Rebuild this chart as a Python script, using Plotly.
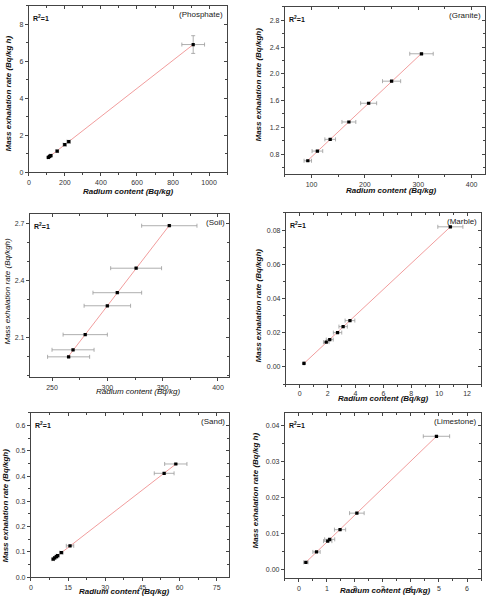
import numpy as np
import plotly.graph_objects as go

# ---------------- data ----------------
materials = ["Phosphate", "Granite", "Soil", "Marble", "Sand", "Limestone"]

phos_x = [108, 115, 122, 157, 199, 221, 912]
phos_y = [0.80, 0.85, 0.90, 1.14, 1.49, 1.65, 6.91]
phos_xerr = [5, 5, 6, 7, 9, 10, 63]
phos_yerr = [0.03, 0.03, 0.04, 0.05, 0.06, 0.07, 0.48]

granite_x = [93, 111, 135, 170, 207, 250, 306]
granite_y = [0.70, 0.845, 1.02, 1.28, 1.56, 1.89, 2.30]
granite_xerr = [7, 10, 10, 13, 15, 17, 22]
granite_yerr = [0.01, 0.01, 0.01, 0.01, 0.01, 0.01, 0.01]

soil_x = [265, 269, 280, 300, 309, 326, 356]
soil_y = [1.997, 2.034, 2.114, 2.266, 2.335, 2.464, 2.688]
soil_xerr = [19, 19, 20, 21, 22, 23, 25]
soil_yerr = [0.003, 0.003, 0.003, 0.003, 0.003, 0.003, 0.003]

marble_x = [0.3, 1.9, 2.15, 2.71, 3.11, 3.6, 10.8]
marble_y = [0.0021, 0.0145, 0.016, 0.0201, 0.0236, 0.0271, 0.0819]
marble_xerr = [0.05, 0.2, 0.25, 0.3, 0.3, 0.35, 0.9]
marble_yerr = [0.0002, 0.0002, 0.0002, 0.0002, 0.0002, 0.0002, 0.0002]

sand_x = [9.0, 9.6, 10.3, 10.8, 12.3, 15.8, 53.8, 58.5]
sand_y = [0.071, 0.076, 0.081, 0.085, 0.097, 0.124, 0.411, 0.448]
sand_xerr = [0.5, 0.5, 0.6, 0.6, 0.7, 1.5, 4.0, 4.5]
sand_yerr = [0.002, 0.002, 0.002, 0.002, 0.002, 0.002, 0.002, 0.002]

lime_x = [0.25, 0.63, 1.03, 1.1, 1.47, 2.07, 4.91]
lime_y = [0.0019, 0.0048, 0.0078, 0.0083, 0.011, 0.0156, 0.037]
lime_xerr = [0.08, 0.13, 0.15, 0.18, 0.2, 0.26, 0.47]
lime_yerr = [0.0001, 0.0001, 0.0001, 0.0001, 0.0001, 0.0001, 0.0001]

x_title = "Radium content (Bq/kg)"
y_titles = ["Mass exhalation rate (Bq/kg h)", "Mass exhalation rate (Bq/kgh)",
            "Mass exhalation rate (Bq/kgh)", "Mass exhalation rate (Bq/kgh)",
            "Mass exhalation rate (Bq/kgh)", "Mass exhalation rate (Bq/kg h)"]

series = [
    (phos_x, phos_y, phos_xerr, phos_yerr),
    (granite_x, granite_y, granite_xerr, granite_yerr),
    (soil_x, soil_y, soil_xerr, soil_yerr),
    (marble_x, marble_y, marble_xerr, marble_yerr),
    (sand_x, sand_y, sand_xerr, sand_yerr),
    (lime_x, lime_y, lime_xerr, lime_yerr),
]

# ---------------- layout geometry (pixels) ----------------
W, H = 486, 609
boxes = [  # left, right, top, bottom
    (27, 226, 6, 173),
    (284, 485, 7, 175),
    (28, 228, 215, 379),
    (285, 481, 214, 386),
    (29, 228, 415, 580),
    (284, 481, 415, 581),
]
xranges = [[0, 1100], [50, 425], [230, 410], [-1, 13], [0, 80], [-0.5, 6.5]]
yranges = [[0, 9], [0.5, 3.0], [1.89, 2.75], [-0.01, 0.09], [0, 0.65], [-0.0025, 0.0435]]
xdt = [200, 100, 50, 2, 15, 1]
xminor = [100, 50, 25, 1, 7.5, 0.5]
ydt = [2, 0.4, 0.3, 0.02, 0.1, 0.01]
yminor = [1, 0.2, 0.1, 0.01, 0.05, 0.005]
yfmt = ["", ".1f", ".1f", ".2f", ".1f", ".2f"]
xtitle_pos = [(127, 192), (391, 191), (137, 393), (383, 400), (123, 594), (385, 593)]
ytitle_pos = [(7, 94), (258, 85), (6, 292), (258, 307), (4, 508), (255, 493)]
title_bold = [True, True, False, True, True, True]

def px(x):
    return x / W

def py(y):
    return 1 - y / H

fig = go.Figure()
layout = {}
annotations = []
tickfont = dict(family="Liberation Sans, Arial", size=7, color="#333")
axcol = "#444"

for i in range(6):
    n = i + 1
    xs, ys, xe, ye = series[i]
    L, R, T, B = boxes[i]
    xa = "x" if n == 1 else f"x{n}"
    ya = "y" if n == 1 else f"y{n}"
    xo = f"x{n + 6}"
    yo = f"y{n + 6}"

    # fit line
    k, b = np.polyfit(xs, ys, 1)
    fx = np.array([min(xs), max(xs)])
    fig.add_trace(go.Scatter(x=fx, y=k * fx + b, mode="lines",
                             line=dict(color="rgba(232,90,90,0.75)", width=0.8),
                             xaxis=xa, yaxis=ya, showlegend=False, hoverinfo="skip"))
    # points with error bars
    fig.add_trace(go.Scatter(x=xs, y=ys, mode="markers",
                             marker=dict(symbol="square", size=3.2, color="black"),
                             error_x=dict(type="data", array=xe, color="#9a9a9a", thickness=0.8, width=2),
                             error_y=dict(type="data", array=ye, color="#9a9a9a", thickness=0.8, width=2),
                             xaxis=xa, yaxis=ya, showlegend=False))
    # dummy traces for mirrored inside-tick axes
    fig.add_trace(go.Scatter(x=[], y=[], xaxis=f"x{n + 6}", yaxis=ya, showlegend=False))
    fig.add_trace(go.Scatter(x=[], y=[], xaxis=xa, yaxis=f"y{n + 6}", showlegend=False))

    xd = [px(L), px(R)]
    yd = [py(B), py(T)]
    common_x = dict(range=xranges[i], dtick=xdt[i], tick0=0, showgrid=False, zeroline=False,
                    linecolor=axcol, linewidth=1, tickcolor=axcol, ticklen=3, tickwidth=1)
    common_y = dict(range=yranges[i], dtick=ydt[i], tick0=0, showgrid=False, zeroline=False,
                    linecolor=axcol, linewidth=1, tickcolor=axcol, ticklen=3, tickwidth=1)
    layout["xaxis" if n == 1 else f"xaxis{n}"] = dict(
        domain=xd, anchor=ya, ticks="outside", showticklabels=True, tickfont=tickfont,
        minor=dict(dtick=xminor[i], ticks="outside", ticklen=2, tickcolor=axcol),
        showline=True, **common_x)
    layout["yaxis" if n == 1 else f"yaxis{n}"] = dict(
        domain=yd, anchor=xa, ticks="outside", showticklabels=True, tickfont=tickfont,
        tickformat=yfmt[i],
        minor=dict(dtick=yminor[i], ticks="outside", ticklen=2, tickcolor=axcol),
        showline=True, **common_y)
    layout[f"xaxis{n + 6}"] = dict(
        overlaying=xa, anchor=ya, side="top", ticks="inside", showticklabels=False,
        minor=dict(dtick=xminor[i], ticks="inside", ticklen=2, tickcolor=axcol),
        showline=True, **common_x)
    layout[f"yaxis{n + 6}"] = dict(
        overlaying=ya, anchor=xa, side="right", ticks="inside", showticklabels=False,
        minor=dict(dtick=yminor[i], ticks="inside", ticklen=2, tickcolor=axcol),
        showline=True, **common_y)

    tfont = dict(family="Liberation Sans, Arial", size=8, color="#111")
    if title_bold[i]:
        xt = f"<b><i>{x_title}</i></b>"
        yt = f"<b><i>{y_titles[i]}</i></b>"
    else:
        xt = f"<i>{x_title}</i>"
        yt = f"<i>{y_titles[i]}</i>"
    annotations.append(dict(text=xt, x=px(xtitle_pos[i][0]), y=py(xtitle_pos[i][1]),
                            xref="paper", yref="paper", showarrow=False, font=tfont,
                            xanchor="center", yanchor="middle"))
    annotations.append(dict(text=yt, x=px(ytitle_pos[i][0]), y=py(ytitle_pos[i][1]),
                            xref="paper", yref="paper", showarrow=False, font=tfont,
                            textangle=-90, xanchor="center", yanchor="middle"))
    # R^2 label
    annotations.append(dict(text="<b>R<sup>2</sup>=1</b>", x=px(L + 2), y=py(T + 12),
                            xref="paper", yref="paper", showarrow=False,
                            font=dict(family="Liberation Sans, Arial", size=7, color="#111"),
                            xanchor="left", yanchor="middle"))
    annotations.append(dict(text=f"({materials[i]})", x=px(R - 2), y=py(T + 9),
                            xref="paper", yref="paper", showarrow=False,
                            font=dict(family="Liberation Sans, Arial", size=8, color="#222"),
                            xanchor="right", yanchor="middle"))

fig.update_layout(width=W, height=H, margin=dict(l=0, r=0, t=0, b=0),
                  paper_bgcolor="white", plot_bgcolor="white",
                  annotations=annotations, showlegend=False, **layout)

fig.write_html("out.html")
